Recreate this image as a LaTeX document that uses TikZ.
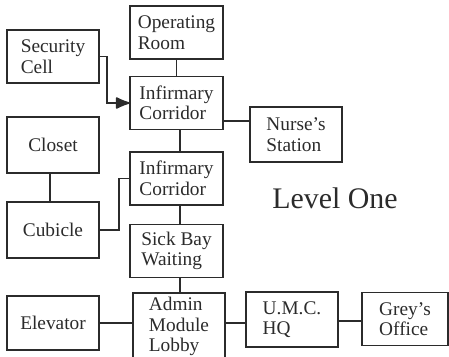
\documentclass[tikz,border=0pt]{standalone}
\usepackage{fontspec}
\setmainfont{Liberation Serif}
\usetikzlibrary{arrows.meta}
\definecolor{LvInk}{HTML}{2B2B2B}

\begin{document}
\begin{tikzpicture}[x=0.03cm,y=-0.03cm,
  room/.style={draw=LvInk,line width=1.6pt,align=left,inner sep=0pt,text=LvInk,
    minimum width=2.77cm,minimum height=1.59cm,font=\fontsize{16.5}{17.5}\selectfont},
  link/.style={draw=LvInk,line width=1.6pt}]
\path[use as bounding box] (0,0) rectangle (449,356);
\node[room] (opRoom) at (176.5,32.5) {Operating\\Room};
\node[room] (secCell) at (53,56.5) {Security\\Cell};
\node[room] (infCorrA) at (176.5,103) {Infirmary\\Corridor};
\node[room,minimum height=1.68cm] (closet) at (53,145) {Closet};
\node[room] (infCorrB) at (176.5,178.5) {Infirmary\\Corridor};
\node[room,minimum height=1.68cm] (cubicle) at (53,230) {Cubicle};
\node[room] (sickBay) at (176.5,251) {Sick Bay\\Waiting};
\node[room,minimum height=1.62cm] (elevator) at (53,323) {Elevator};
\node[room,minimum height=2.01cm] (adminLobby) at (179,326.5) {Admin\\Module\\Lobby};
\node[room,minimum height=1.65cm] (nurseSt) at (296,134.5) {Nurse's\\Station};
\node[room,minimum height=1.65cm] (umcHQ) at (292,319.5) {U.M.C.\\HQ};
\node[room,minimum width=2.58cm] (greyOff) at (405,319) {Grey's\\Office};
\node[text=LvInk,font=\fontsize{25.5}{28}\selectfont] (levelOne) at (335,198) {Level One};
\draw[link] (opRoom) -- (infCorrA);
\draw[link,-{Latex[round,length=14pt,width=11pt]}] (secCell.east) -- ++(7,0) |- (infCorrA.west);
\draw[link] (infCorrA.east |- 0,121) -- (nurseSt.west |- 0,121);
\draw[link] (infCorrA.south -| 180,0) -- (infCorrB.north -| 180,0);
\draw[link] (closet.south -| 50,0) -- (cubicle.north -| 50,0);
\draw[link] (cubicle.east) -- ++(19,0) |- (infCorrB.west);
\draw[link] (infCorrB.south -| 180,0) -- (sickBay.north -| 180,0);
\draw[link] (sickBay.south -| 180,0) -- (adminLobby.north -| 180,0);
\draw[link] (elevator.east) -- (adminLobby.west |- elevator.east);
\draw[link] (adminLobby.east |- 0,323) -- (umcHQ.west |- 0,323);
\draw[link] (umcHQ.east |- 0,321) -- (greyOff.west |- 0,321);
\end{tikzpicture}
\end{document}
